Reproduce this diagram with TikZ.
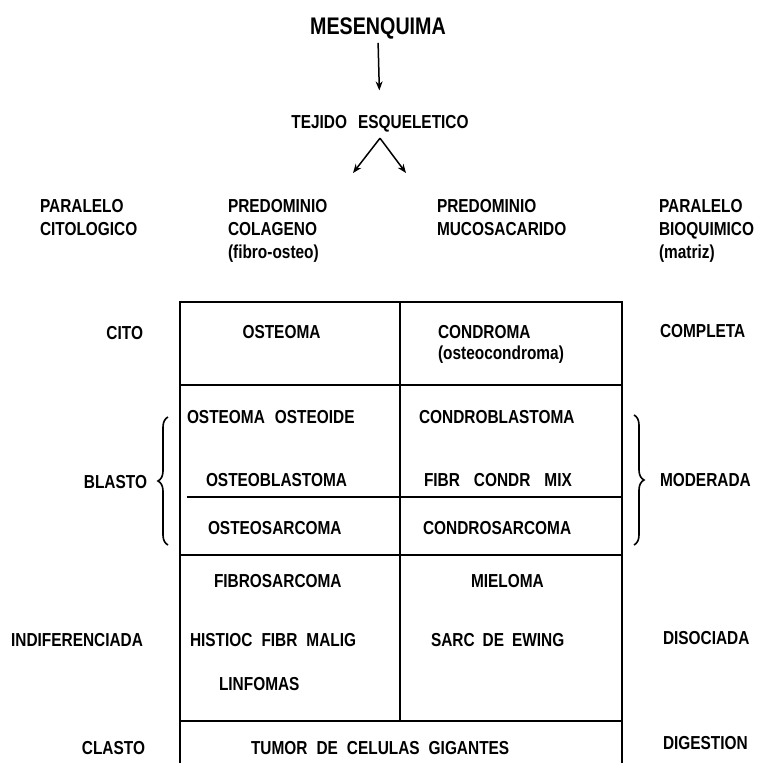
\documentclass[tikz,border=0pt]{standalone}
\usepackage{fontspec}
\setmainfont{Liberation Sans}[FakeStretch=0.82]
\usetikzlibrary{arrows.meta,decorations.pathreplacing}
\begin{document}
\begin{tikzpicture}[x=1pt,y=-1pt,
  txt/.style={inner sep=0pt,outer sep=0pt,font=\fontsize{18.8}{20}\selectfont\bfseries},
  bigtxt/.style={inner sep=0pt,outer sep=0pt,font=\fontsize{24}{26}\selectfont\bfseries},
  L/.style={txt,anchor=base west},
  R/.style={txt,anchor=base east},
  C/.style={txt,anchor=base},
  arr/.style={line width=1.5pt,-{Stealth[length=9pt,width=7pt]}},
  frame/.style={line width=1.5pt},
  rowline/.style={line width=1.2pt},
  thick rule/.style={line width=2.8pt},
  bracestyle/.style={line width=1.6pt,decorate,decoration={brace,amplitude=10pt}}]
\useasboundingbox (0,0) rectangle (761,763);

% title and arrows
\node[bigtxt,anchor=base] (mes) at (378,34.2) {MESENQUIMA};
\node[C] (tej) at (380,128.5) {TEJIDO\hspace{11pt}ESQUELETICO};
\draw[arr,shorten <=4pt,shorten >=25pt] (mes.south) -- (tej.north);
\coordinate (la) at (353,173);
\coordinate (ra) at (406,173);
\draw[arr] ([yshift=-6pt]tej.south) -- (la);
\draw[arr] ([yshift=-6pt]tej.south) -- (ra);

% headers
\node[L] (h1a) at (40,212.5) {PARALELO};
\node[L] (h1b) at (40,235.5) {CITOLOGICO};
\node[L] (h2a) at (228,212.5) {PREDOMINIO};
\node[L] (h2b) at (228,235.5) {COLAGENO};
\node[L] (h2c) at (228,258.5) {(fibro-osteo)};
\node[L] (h3a) at (437,212.5) {PREDOMINIO};
\node[L] (h3b) at (437,235.5) {MUCOSACARIDO};
\node[L] (h4a) at (659,212.5) {PARALELO};
\node[L] (h4b) at (659,235.5) {BIOQUIMICO};
\node[L] (h4c) at (659,258.5) {(matriz)};

% table
\coordinate (tl) at (180,302);
\coordinate (tr) at (622,302);
\coordinate (bl) at (180,763);
\coordinate (br) at (622,763);
\coordinate (mt) at (400,302);
\coordinate (mb) at (400,721);
\draw[frame] (bl) -- (tl) -- (tr) -- (br);
\draw[frame] (mt) -- (mb);
\draw[rowline] (180,385) -- (622,385);
\draw[rowline] (187,497) -- (622,497);
\draw[rowline] (180,555) -- (622,555);
\draw[thick rule] (180,721) -- (622,721);

% braces
\draw[bracestyle] (168,545) -- (168,417);
\draw[bracestyle] (634,415) -- (634,545);

% row labels
\node[R] (cito) at (143,339.5) {CITO};
\node[R] (blasto) at (147,488.5) {BLASTO};
\node[R] (indif) at (143,646.5) {INDIFERENCIADA};
\node[R] (clasto) at (145,754.5) {CLASTO};
\node[L] (compl) at (660,337.5) {COMPLETA};
\node[L] (moder) at (660,486.5) {MODERADA};
\node[L] (disoc) at (663,644.5) {DISOCIADA};
\node[L] (diges) at (663,749.5) {DIGESTION};

% cells
\node[C] (c11) at (281.5,338.5) {OSTEOMA};
\node[L] (c12) at (438,338.5) {CONDROMA};
\node[L] (c12b) at (438,359) {(osteocondroma)};
\node[L] (c21) at (187,423.5) {OSTEOMA\hspace{10pt}OSTEOIDE};
\node[L] (c22) at (419,423.5) {CONDROBLASTOMA};
\node[L] (c31) at (206,486.5) {OSTEOBLASTOMA};
\node[L] (c32) at (424,486.5) {FIBR\hspace{14pt}CONDR\hspace{14pt}MIX};
\node[L] (c41) at (208,534.5) {OSTEOSARCOMA};
\node[L] (c42) at (423,534.5) {CONDROSARCOMA};
\node[L] (c51) at (214,587.5) {FIBROSARCOMA};
\node[L] (c52) at (471,587.5) {MIELOMA};
\node[L] (c61) at (190,646.5) {HISTIOC\hspace{9pt}FIBR\hspace{9pt}MALIG};
\node[L] (c62) at (431,646.5) {SARC\hspace{8pt}DE\hspace{8pt}EWING};
\node[L] (c71) at (219,690.5) {LINFOMAS};
\node[L] (c8) at (251,754.5) {TUMOR\hspace{9pt}DE\hspace{9pt}CELULAS\hspace{9pt}GIGANTES};
\end{tikzpicture}
\end{document}
